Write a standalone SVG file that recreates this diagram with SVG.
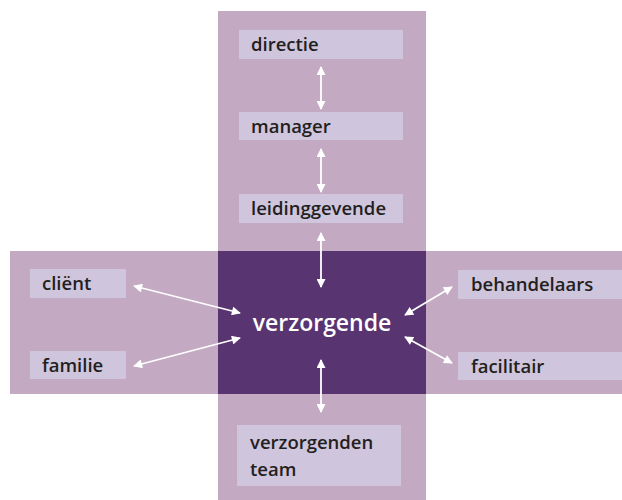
<svg xmlns="http://www.w3.org/2000/svg" width="622" height="500" viewBox="0 0 622 500">
<defs>
<style>
.band{fill:#c4a9c3}
.core{fill:#583571}
.box{fill:#cfc5dc}
.lbl{font-family:"Open Sans","Noto Sans",sans-serif;font-size:18.5px;font-weight:600;fill:#231f20}
.main{font-family:"Open Sans","Noto Sans",sans-serif;font-size:23px;font-weight:600;fill:#ffffff}
.conn{stroke:#ffffff;stroke-width:1.8;fill:none;marker-start:url(#ah);marker-end:url(#ah)}
</style>
<marker id="ah" viewBox="0 0 10 10" refX="9" refY="5" markerWidth="5.5" markerHeight="5" orient="auto-start-reverse" markerUnits="strokeWidth">
<path d="M0,0 L10,5 L0,10 z" fill="#ffffff"/>
</marker>
</defs>
<g id="background">
<rect class="band" x="218" y="11" width="208" height="489"/>
<rect class="band" x="10" y="251" width="612" height="143"/>
</g>
<g id="verzorgende">
<rect class="core" x="218" y="251" width="208" height="143"/>
<text class="main" x="322" y="331" text-anchor="middle">verzorgende</text>
</g>
<g id="directie">
<rect class="box" x="239" y="30" width="164" height="29"/>
<text class="lbl" x="251" y="51">directie</text>
</g>
<g id="manager">
<rect class="box" x="239" y="112" width="164" height="28"/>
<text class="lbl" x="251" y="133">manager</text>
</g>
<g id="leidinggevende">
<rect class="box" x="239" y="194" width="164" height="29"/>
<text class="lbl" x="251" y="215">leidinggevende</text>
</g>
<g id="client">
<rect class="box" x="30" y="269" width="96" height="29"/>
<text class="lbl" x="42" y="290">cliënt</text>
</g>
<g id="familie">
<rect class="box" x="30" y="351" width="96" height="28"/>
<text class="lbl" x="42" y="372">familie</text>
</g>
<g id="behandelaars">
<rect class="box" x="458" y="270" width="164" height="29"/>
<text class="lbl" x="471" y="291">behandelaars</text>
</g>
<g id="facilitair">
<rect class="box" x="458" y="352" width="164" height="28"/>
<text class="lbl" x="471" y="373">facilitair</text>
</g>
<g id="verzorgenden-team">
<rect class="box" x="237" y="425" width="164" height="61"/>
<text class="lbl" x="250" y="449">verzorgenden</text>
<text class="lbl" x="250" y="476">team</text>
</g>
<g id="connectors">
<line class="conn" x1="321" y1="67" x2="321" y2="109"/>
<line class="conn" x1="321" y1="149" x2="321" y2="192"/>
<line class="conn" x1="321" y1="233" x2="321" y2="287"/>
<line class="conn" x1="321" y1="360" x2="321" y2="412"/>
<line class="conn" x1="134" y1="286" x2="240" y2="313"/>
<line class="conn" x1="134" y1="366" x2="240" y2="338"/>
<line class="conn" x1="405" y1="315" x2="452" y2="287"/>
<line class="conn" x1="405" y1="337" x2="452" y2="363"/>
</g>
</svg>
